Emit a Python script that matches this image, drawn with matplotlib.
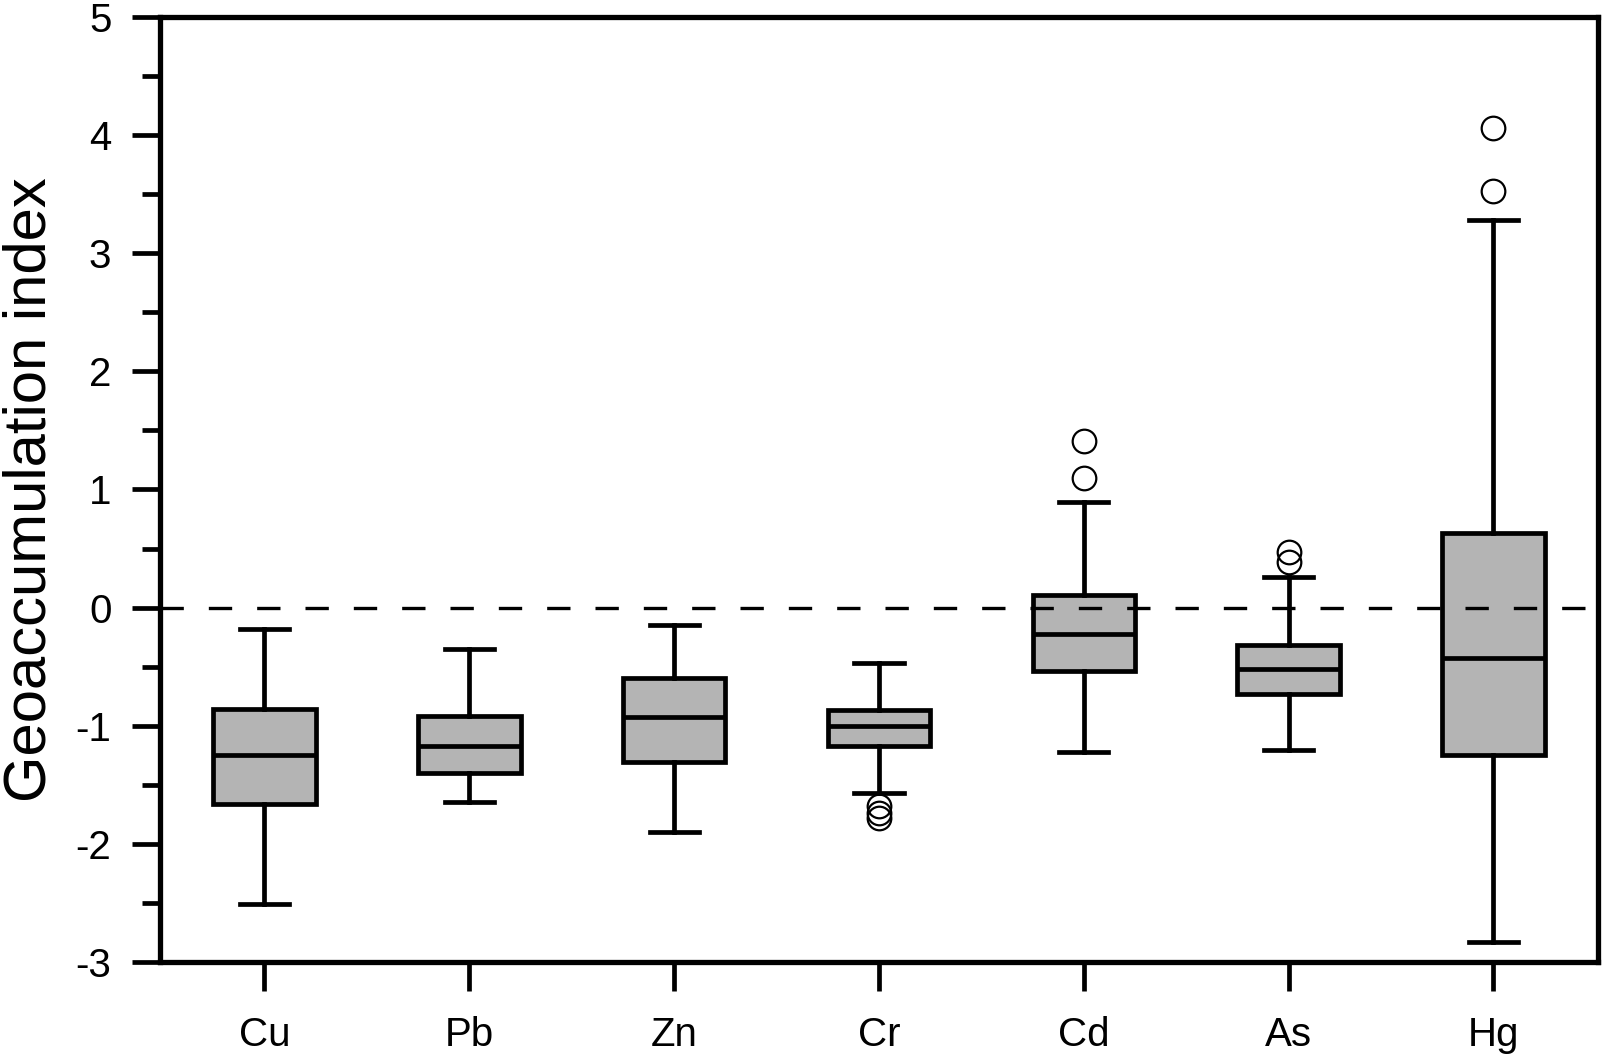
import numpy as np
import matplotlib
matplotlib.use("Agg")
import matplotlib.pyplot as plt
from matplotlib.ticker import MultipleLocator

plt.rcParams["font.family"] = ["Liberation Sans", "DejaVu Sans"]
plt.rcParams["axes.unicode_minus"] = False

# box statistics
elements = ["Cu", "Pb", "Zn", "Cr", "Cd", "As", "Hg"]
q1 = [-1.66, -1.40, -1.31, -1.17, -0.54, -0.73, -1.25]
med = [-1.25, -1.17, -0.93, -1.00, -0.22, -0.52, -0.43]
q3 = [-0.86, -0.92, -0.60, -0.87, 0.11, -0.32, 0.63]
whislo = [-2.51, -1.65, -1.90, -1.57, -1.22, -1.21, -2.83]
whishi = [-0.18, -0.35, -0.15, -0.47, 0.89, 0.26, 3.28]
fliers = [[], [], [], [-1.68, -1.74, -1.78], [1.10, 1.41], [0.39, 0.47], [3.53, 4.06]]

stats = []
for i in range(len(elements)):
    stats.append(dict(label=elements[i], q1=q1[i], med=med[i], q3=q3[i],
                      whislo=whislo[i], whishi=whishi[i], fliers=fliers[i]))

fig = plt.figure(figsize=(16.05, 10.61), dpi=100)
ax = fig.add_axes([0.0997, 0.0936, 0.8959, 0.8901])

lw = 3.4
ax.bxp(stats, positions=np.arange(1, 8), widths=0.5, capwidths=0.24,
       patch_artist=True,
       boxprops=dict(facecolor="#b4b4b4", edgecolor="black", linewidth=lw),
       medianprops=dict(color="black", linewidth=lw),
       whiskerprops=dict(color="black", linewidth=lw),
       capprops=dict(color="black", linewidth=lw),
       flierprops=dict(marker="o", markersize=17, markerfacecolor="none",
                       markeredgecolor="black", markeredgewidth=1.6))

# zero reference line
ax.axhline(0, color="black", linewidth=2.4, dashes=(7, 7.5), zorder=5)

ax.set_xlim(0.49, 7.51)
ax.set_ylim(-3, 5)
ax.yaxis.set_major_locator(MultipleLocator(1))
ax.yaxis.set_minor_locator(MultipleLocator(0.5))
ax.set_xticks(np.arange(1, 8))
ax.set_xticklabels(elements)

for s in ax.spines.values():
    s.set_linewidth(3.8)
ax.tick_params(axis="y", which="major", length=20, width=3.4, direction="out", labelsize=29, pad=15)
ax.tick_params(axis="y", which="minor", length=13, width=3.4, direction="out")
ax.tick_params(axis="x", which="major", length=21, width=3.4, direction="out", labelsize=29, pad=18)

ax.set_ylabel("Geoaccumulation index", fontsize=43)
ax.yaxis.set_label_coords(-0.071, 0.5)

fig.savefig("out.png", dpi=100)
